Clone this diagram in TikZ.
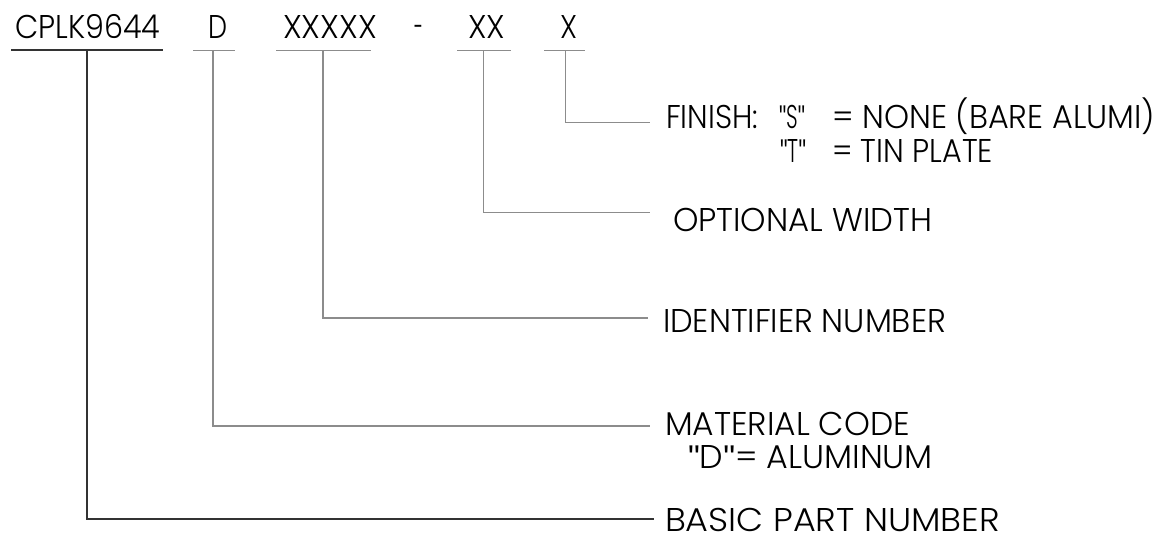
\documentclass[tikz,border=0pt]{standalone}
\usepackage{fontspec}
\setmainfont{Poppins Light}
\newfontfamily\qfont{Liberation Sans}
\usepackage{graphicx}
\newcommand{\tw}[2]{\resizebox{#1pt}{\height}{#2}}
\newcommand{\qq}{{\qfont"}}
\newlength\capx
\begin{document}
\settoheight\capx{\fontsize{10}{12}\selectfont X}
\pgfmathsetmacro\fsz{10*23/\capx}
\begin{tikzpicture}[x=1pt,y=-1pt,
  txt/.style={anchor=base west,inner sep=0pt,outer sep=0pt,font=\fontsize{\fsz}{\fsz}\selectfont,text=black},
  darkln/.style={draw=black!80,line width=1.3pt},
  grayln/.style={draw=black!45,line width=1pt}]
\useasboundingbox (0,0) rectangle (1163,539);
% part number codes
\node[txt] (cplk) at (15,38) {\tw{145}{CPLK9644}};
\node[txt] (d) at (208,38) {\tw{19}{D}};
\node[txt] (x5) at (283,38) {\tw{94}{XXXXX}};
\node[txt] (dash) at (414,38) {\tw{9}{-}};
\node[txt] (x2) at (468,38) {\tw{37}{XX}};
\node[txt] (x1) at (560,38) {\tw{17}{X}};
% labels
\node[txt] (fin) at (666,128) {\tw{92}{FINISH:}};
\node[txt] (qs) at (779,128) {\tw{26}{\qq S\qq}};
\node[txt] (none) at (832,128) {\tw{323}{= NONE (BARE ALUMI)}};
\node[txt] (qt) at (780,162) {\tw{26}{\qq T\qq}};
\node[txt] (tin) at (832,162) {\tw{161}{= TIN PLATE}};
\node[txt] (opt) at (673,231) {\tw{259}{OPTIONAL WIDTH}};
\node[txt] (ident) at (663,332) {\tw{283}{IDENTIFIER NUMBER}};
\node[txt] (mat) at (665,435) {\tw{245}{MATERIAL CODE}};
\node[txt] (alu) at (688,468) {\tw{245}{\qq D\qq= ALUMINUM}};
\node[txt] (basic) at (665,531) {\tw{335}{BASIC PART NUMBER}};
% underline ends and tees
\coordinate (cL) at (11,50);  \coordinate (cR) at (163,50); \coordinate (cT) at (87,50);
\coordinate (dL) at (193,50); \coordinate (dR) at (235,50); \coordinate (dT) at (213,50);
\coordinate (x5L) at (276,50); \coordinate (x5R) at (371,50); \coordinate (x5T) at (323,50);
\coordinate (x2L) at (457,50); \coordinate (x2R) at (511,50); \coordinate (x2T) at (483,50);
\coordinate (x1L) at (544,50); \coordinate (x1R) at (585,50); \coordinate (x1T) at (565,50);
% leader ends
\coordinate (eFin) at (650,122);
\coordinate (eOpt) at (650,212);
\coordinate (eId) at (648,318);
\coordinate (eMat) at (650,426);
\coordinate (eBas) at (654,519);
% underlines
\draw[darkln] (cL) -- (cR);
\draw[grayln] (dL) -- (dR);
\draw[grayln] (x5L) -- (x5R);
\draw[grayln] (x2L) -- (x2R);
\draw[grayln] (x1L) -- (x1R);
% leaders
\draw[darkln] (cT) |- (eBas);
\draw[grayln,line width=1.4pt] (dT) |- (eMat);
\draw[grayln,line width=1.3pt] (x5T) |- (eId);
\draw[grayln] (x2T) |- (eOpt);
\draw[grayln] (x1T) |- (eFin);
\end{tikzpicture}
\end{document}
